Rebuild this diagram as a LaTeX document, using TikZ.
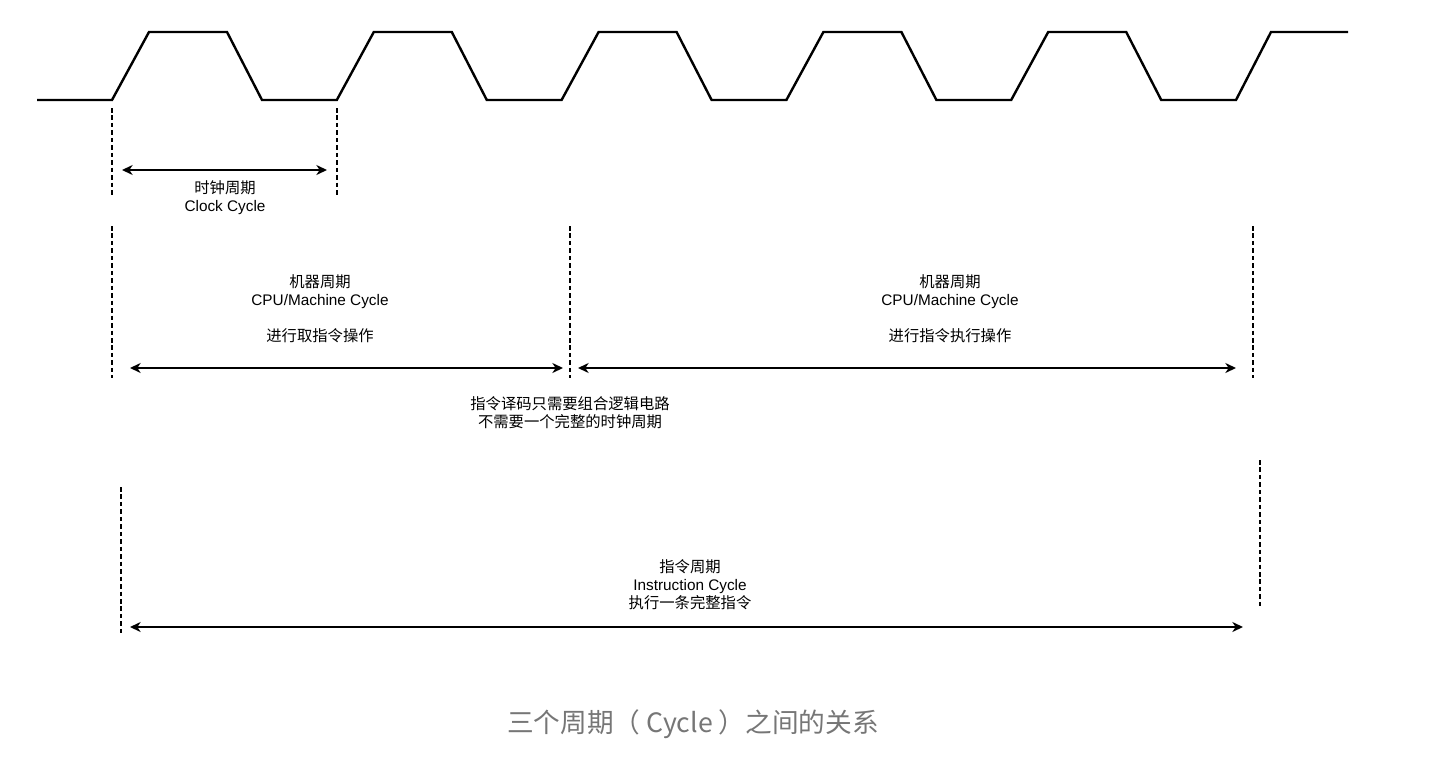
\documentclass[tikz,border=0pt]{standalone}
\usepackage{fontspec}
\usepackage{tikz}
\usetikzlibrary{arrows.meta, positioning}
\setmainfont{Liberation Sans}
\newfontfamily\cjk{Noto Sans CJK SC}
\definecolor{captiongray}{RGB}{118, 118, 118}

\begin{document}
\begin{tikzpicture}[
    x=0.75pt, y=-0.75pt,
    wave/.style={line width=1.8pt, line join=miter, black},
    mark line/.style={line width=1.4pt, dash pattern=on 3.4pt off 2.2pt, black},
    span/.style={line width=1.3pt, {Stealth[length=8pt,width=7.5pt,inset=2.5pt]}-{Stealth[length=8pt,width=7.5pt,inset=2.5pt]}},
    label/.style={align=center, font=\fontsize{11.5}{13.5}\selectfont, inner sep=0pt},
    caption/.style={font=\cjk\fontsize{20}{22}\selectfont, text=captiongray, inner sep=0pt}
]
    \useasboundingbox (0,0) rectangle (1442,760);

    % Clock signal
    \draw[wave] (37,100) -- (112,100)
        \foreach \k in {0,...,4} {
            -- ({112+224.8*\k+37},32) -- ({112+224.8*\k+115},32)
            -- ({112+224.8*\k+150},100) -- ({112+224.8*\k+224.8},100)
        }
        -- (1271,32) -- (1348,32);

    % Clock cycle
    \coordinate (ck0t) at (112,108);  \coordinate (ck0b) at (112,195);
    \coordinate (ck1t) at (337,108);  \coordinate (ck1b) at (337,195);
    \coordinate (ckl) at (122,170);   \coordinate (ckr) at (327,170);
    \draw[mark line] (ck0t) -- (ck0b);
    \draw[mark line] (ck1t) -- (ck1b);
    \draw[span] (ckl) -- (ckr);
    \node[label] (clock) at (225,198) {{\cjk 时钟周期}\\Clock Cycle};

    % Machine cycles
    \coordinate (mc0t) at (112,226);  \coordinate (mc0b) at (112,378);
    \coordinate (mc1t) at (570,226);  \coordinate (mc1b) at (570,378);
    \coordinate (mc2t) at (1253,226); \coordinate (mc2b) at (1253,378);
    \coordinate (fetchl) at (130,368); \coordinate (fetchr) at (563,368);
    \coordinate (execl) at (578,368);  \coordinate (execr) at (1236,368);
    \draw[mark line] (mc0t) -- (mc0b);
    \draw[mark line] (mc1t) -- (mc1b);
    \draw[mark line] (mc2t) -- (mc2b);
    \draw[span] (fetchl) -- (fetchr);
    \draw[span] (execl) -- (execr);
    \node[label] (fetch) at (320,309) {{\cjk 机器周期}\\CPU/Machine Cycle\\[13.5pt]{\cjk 进行取指令操作}};
    \node[label] (exec) at (950,309) {{\cjk 机器周期}\\CPU/Machine Cycle\\[13.5pt]{\cjk 进行指令执行操作}};
    \node[label] (decode) at (570,413) {\cjk 指令译码只需要组合逻辑电路\\\cjk 不需要一个完整的时钟周期};

    % Instruction cycle
    \coordinate (ic0t) at (121,487);  \coordinate (ic0b) at (121,634);
    \coordinate (ic1t) at (1260,460); \coordinate (ic1b) at (1260,608);
    \coordinate (insl) at (130,627);  \coordinate (insr) at (1243,627);
    \draw[mark line] (ic0t) -- (ic0b);
    \draw[mark line] (ic1t) -- (ic1b);
    \draw[span] (insl) -- (insr);
    \node[label] (instr) at (690,585) {{\cjk 指令周期}\\Instruction Cycle\\{\cjk 执行一条完整指令}};

    % Caption
    \node[caption] (title) at (693,724) {三个周期（ Cycle ）之间的关系};
\end{tikzpicture}
\end{document}
